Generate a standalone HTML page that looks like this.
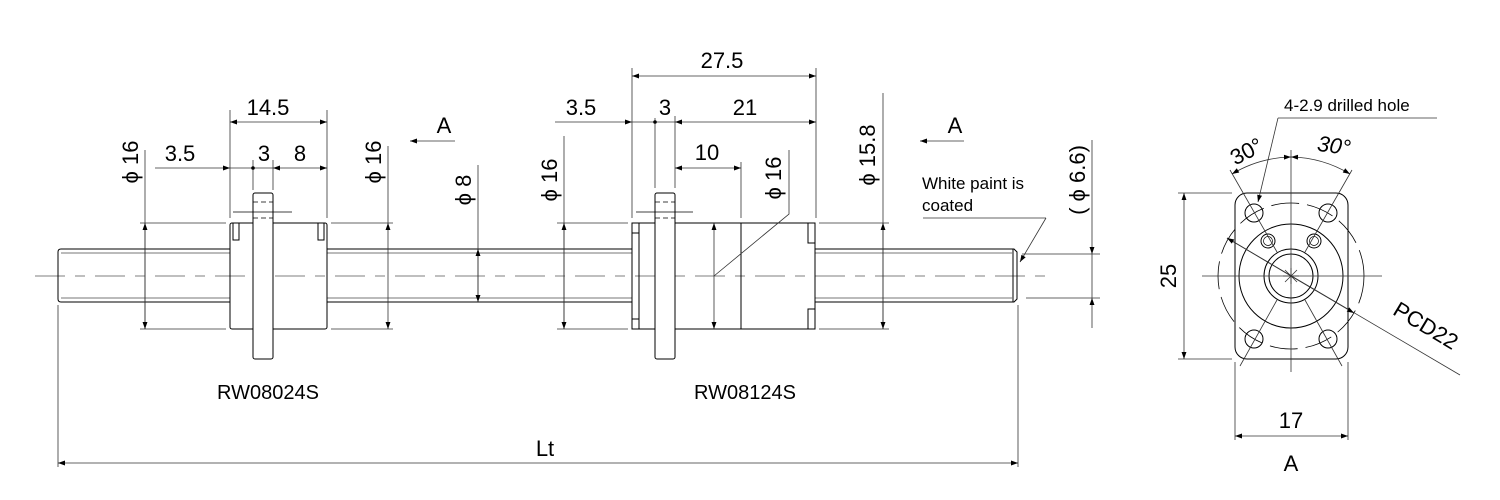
<!DOCTYPE html>
<html><head><meta charset="utf-8"><style>
html,body{margin:0;padding:0;background:#fff;}
svg{display:block;}
text{font-family:"Liberation Sans",sans-serif;fill:#000;}
</style></head><body>
<svg width="1500" height="500" viewBox="0 0 1500 500" xmlns="http://www.w3.org/2000/svg">
<defs>
<marker id="a" viewBox="0 0 10 10" refX="10" refY="5" markerWidth="16" markerHeight="7" markerUnits="userSpaceOnUse" orient="auto-start-reverse"><path d="M0,1.5 L10,5 L0,8.5 z" fill="#000"/></marker>
</defs>
<g stroke="#000" fill="none" stroke-width="1">
<line x1="35" y1="276" x2="1050" y2="276" stroke="#555" stroke-dasharray="30,10,10,10" stroke-width="0.8"/>
<path d="M61,249 L230,249 M61,302 L230,302 M58,252 L58,299 Q58,302 61,302 M58,252 Q58,249 61,249"/>
<line x1="61" y1="253" x2="230" y2="253" stroke="#777"/>
<line x1="61" y1="298" x2="230" y2="298" stroke="#777"/>
<path d="M327,249 L632,249 M327,302 L632,302"/>
<line x1="327" y1="253" x2="632" y2="253" stroke="#777"/>
<line x1="327" y1="298" x2="632" y2="298" stroke="#777"/>
<path d="M815,249 L1014,249 L1017,252 L1017,299 L1014,302 L815,302 M1013,249 L1013,302"/>
<line x1="815" y1="253" x2="1013" y2="253" stroke="#777"/>
<line x1="815" y1="298" x2="1013" y2="298" stroke="#777"/>
<rect x="230" y="223" width="97" height="106" rx="2"/>
<path d="M233,223 L233,240 L239,240 L239,223 M324,223 L324,240 L318,240 L318,223"/>
<rect x="253" y="193" width="20" height="166" rx="2" fill="#fff"/>
<line x1="233" y1="212" x2="292" y2="212" stroke-width="0.7"/>
<path d="M253,202 L273,202 M253,218 L273,218" stroke-dasharray="5,3" stroke-width="0.7"/>
<rect x="632" y="223" width="7" height="106"/>
<path d="M632,233 L639,233 M632,319 L639,319"/>
<rect x="639" y="223" width="176" height="106"/>
<line x1="741" y1="223" x2="741" y2="329"/>
<path d="M808,223 L808,243 L815,243 M808,329 L808,309 L815,309"/>
<rect x="655" y="193" width="20" height="166" rx="2" fill="#fff"/>
<line x1="636" y1="212" x2="693" y2="212" stroke-width="0.7"/>
<path d="M655,202 L675,202 M655,218 L675,218" stroke-dasharray="5,3" stroke-width="0.7"/>
</g>
<g stroke="#333" fill="none" stroke-width="0.8">
<line x1="230" y1="110" x2="230" y2="218"/><line x1="327" y1="110" x2="327" y2="218"/>
<line x1="230" y1="122" x2="327" y2="122" marker-start="url(#a)" marker-end="url(#a)"/>
<line x1="155" y1="168" x2="230" y2="168" marker-end="url(#a)"/>
<line x1="230" y1="168" x2="273" y2="168"/>
<line x1="253" y1="160" x2="253" y2="190"/><line x1="273" y1="160" x2="273" y2="190"/>
<line x1="273" y1="168" x2="327" y2="168" marker-start="url(#a)" marker-end="url(#a)"/>
<line x1="140" y1="223" x2="226" y2="223"/><line x1="140" y1="329" x2="226" y2="329"/>
<line x1="145" y1="150" x2="145" y2="329"/>
<line x1="145" y1="223" x2="145" y2="329" marker-start="url(#a)" marker-end="url(#a)"/>
<line x1="331" y1="223" x2="393" y2="223"/><line x1="331" y1="329" x2="393" y2="329"/>
<line x1="388" y1="146" x2="388" y2="223"/>
<line x1="388" y1="223" x2="388" y2="329" marker-start="url(#a)" marker-end="url(#a)"/>
<line x1="478" y1="165" x2="478" y2="302"/>
<line x1="478" y1="249" x2="478" y2="302" marker-start="url(#a)" marker-end="url(#a)"/>
<line x1="455" y1="141" x2="410" y2="141" marker-end="url(#a)"/>
<line x1="964" y1="141" x2="920" y2="141" marker-end="url(#a)"/>
<line x1="632" y1="68" x2="632" y2="218"/><line x1="816" y1="68" x2="816" y2="218"/>
<line x1="632" y1="76" x2="816" y2="76" marker-start="url(#a)" marker-end="url(#a)"/>
<line x1="555" y1="122" x2="632" y2="122" marker-end="url(#a)"/>
<line x1="632" y1="122" x2="675" y2="122"/>
<line x1="655" y1="118" x2="655" y2="188"/><line x1="675" y1="116" x2="675" y2="188"/>
<line x1="675" y1="122" x2="816" y2="122" marker-start="url(#a)" marker-end="url(#a)"/>
<line x1="741" y1="162" x2="741" y2="218"/>
<line x1="675" y1="168" x2="741" y2="168" marker-start="url(#a)" marker-end="url(#a)"/>
<line x1="557" y1="223" x2="628" y2="223"/><line x1="557" y1="329" x2="628" y2="329"/>
<line x1="564" y1="136" x2="564" y2="329"/>
<line x1="564" y1="223" x2="564" y2="329" marker-start="url(#a)" marker-end="url(#a)"/>
<line x1="714" y1="223" x2="714" y2="329" marker-start="url(#a)" marker-end="url(#a)"/>
<polyline points="714,276 789,214 789,150"/>
<line x1="819" y1="223" x2="889" y2="223"/><line x1="819" y1="329" x2="889" y2="329"/>
<line x1="883" y1="93" x2="883" y2="329"/>
<line x1="883" y1="223" x2="883" y2="329" marker-start="url(#a)" marker-end="url(#a)"/>
<polyline points="923,218 1046,218"/>
<line x1="1046" y1="218" x2="1020" y2="262" marker-end="url(#a)"/>
<line x1="1022" y1="254" x2="1100" y2="254"/><line x1="1026" y1="298" x2="1100" y2="298"/>
<line x1="1092" y1="140" x2="1092" y2="254" marker-end="url(#a)"/>
<line x1="1092" y1="328" x2="1092" y2="298" marker-end="url(#a)"/>
<line x1="1092" y1="254" x2="1092" y2="298"/>
<line x1="58" y1="305" x2="58" y2="467"/><line x1="1018" y1="305" x2="1018" y2="467"/>
<line x1="58" y1="463" x2="1018" y2="463" marker-start="url(#a)" marker-end="url(#a)"/>
</g>
<circle cx="253" cy="168" r="1.8"/><circle cx="655" cy="122" r="1.8"/>
<g font-size="22">
<text x="268" y="115" text-anchor="middle">14.5</text>
<text x="180" y="161" text-anchor="middle">3.5</text>
<text x="264" y="161" text-anchor="middle">3</text>
<text x="300" y="161" text-anchor="middle">8</text>
<text x="444" y="133" text-anchor="middle">A</text>
<text x="955" y="133" text-anchor="middle">A</text>
<text x="722" y="68" text-anchor="middle">27.5</text>
<text x="581" y="115" text-anchor="middle">3.5</text>
<text x="665" y="115" text-anchor="middle">3</text>
<text x="745" y="115" text-anchor="middle">21</text>
<text x="707" y="160" text-anchor="middle">10</text>
<text x="545" y="456" text-anchor="middle">Lt</text>
<text transform="translate(138,162) rotate(-90)" text-anchor="middle">ϕ 16</text>
<text transform="translate(381,162) rotate(-90)" text-anchor="middle">ϕ 16</text>
<text transform="translate(471,190) rotate(-90)" text-anchor="middle">ϕ 8</text>
<text transform="translate(557,180) rotate(-90)" text-anchor="middle">ϕ 16</text>
<text transform="translate(781,178) rotate(-90)" text-anchor="middle">ϕ 16</text>
<text transform="translate(875,155) rotate(-90)" text-anchor="middle">ϕ 15.8</text>
<text transform="translate(1085,180) rotate(-90)" text-anchor="middle">( ϕ 6.6)</text>
</g>
<g font-size="20">
<text x="268" y="399" text-anchor="middle">RW08024S</text>
<text x="745" y="399" text-anchor="middle">RW08124S</text>
</g>
<g font-size="17">
<text x="922" y="189">White paint is</text>
<text x="922" y="211">coated</text>
<text x="1284" y="111">4-2.9 drilled hole</text>
</g>
<g stroke="#000" fill="none" stroke-width="1">
<rect x="1235" y="193" width="113" height="166" rx="12"/>
<circle cx="1291" cy="276" r="73" stroke-dasharray="28,8" stroke-width="0.8"/>
<circle cx="1291" cy="276" r="52"/>
<circle cx="1291" cy="276" r="27"/>
<circle cx="1291" cy="276" r="22"/>
<circle cx="1254" cy="213" r="9"/><circle cx="1328" cy="213" r="9"/>
<circle cx="1254" cy="339" r="9"/><circle cx="1328" cy="339" r="9"/>
<circle cx="1268" cy="241" r="7"/><circle cx="1314" cy="241" r="7"/>
<circle cx="1268" cy="241" r="4.5" stroke-width="0.7"/><circle cx="1314" cy="241" r="4.5" stroke-width="0.7"/>
</g>
<g stroke="#333" fill="none" stroke-width="0.8">
<line x1="1202" y1="276" x2="1382" y2="276"/>
<line x1="1291" y1="150" x2="1291" y2="372"/>
<line x1="1230" y1="170" x2="1277" y2="252"/>
<line x1="1352" y1="170" x2="1305" y2="252"/>
<line x1="1240" y1="366" x2="1277" y2="300"/>
<line x1="1342" y1="366" x2="1305" y2="300"/>
<path d="M1283,276 L1299,276 M1291,268 L1291,284 M1285,270 L1297,282 M1297,270 L1285,282"/>
<path d="M1232,174 A119,119 0 0 1 1291,157" marker-start="url(#a)" marker-end="url(#a)"/>
<path d="M1291,157 A119,119 0 0 1 1350,174" marker-start="url(#a)" marker-end="url(#a)"/>
<polyline points="1437,118 1278,118"/>
<line x1="1278" y1="118" x2="1258" y2="202" marker-end="url(#a)"/>
<line x1="1227" y1="238" x2="1460" y2="375"/>
<line x1="1291" y1="276" x2="1227" y2="238" marker-end="url(#a)"/>
<line x1="1291" y1="276" x2="1354" y2="313" marker-end="url(#a)"/>
<line x1="1178" y1="193" x2="1232" y2="193"/><line x1="1178" y1="359" x2="1232" y2="359"/>
<line x1="1184" y1="193" x2="1184" y2="359" marker-start="url(#a)" marker-end="url(#a)"/>
<line x1="1235" y1="362" x2="1235" y2="440"/><line x1="1348" y1="362" x2="1348" y2="440"/>
<line x1="1235" y1="436" x2="1348" y2="436" marker-start="url(#a)" marker-end="url(#a)"/>
</g>
<g font-size="22">
<text transform="translate(1250,158) rotate(-28)" text-anchor="middle">30°</text>
<text transform="translate(1333,153) rotate(8)" text-anchor="middle" font-style="italic">30°</text>
<text transform="translate(1176,276) rotate(-90)" text-anchor="middle">25</text>
<text x="1291" y="428" text-anchor="middle">17</text>
<text x="1291" y="471" text-anchor="middle">A</text>
<text transform="translate(1422,332) rotate(31)" text-anchor="middle">PCD22</text>
</g>
</svg>
</body></html>
